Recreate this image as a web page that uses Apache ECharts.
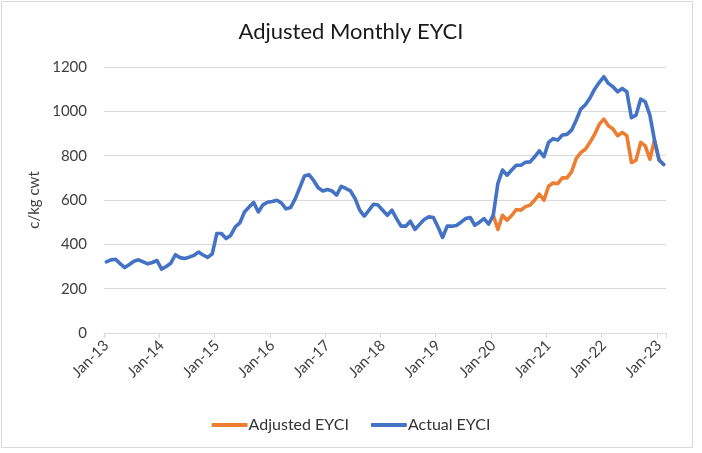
<!DOCTYPE html>
<html>
<head>
<meta charset="utf-8">
<script src="https://cdn.jsdelivr.net/npm/echarts@6/dist/echarts.min.js"></script>
<style>
  html, body { margin: 0; padding: 0; background: #fff; }
  #chart { width: 702px; height: 453px; }
</style>
</head>
<body>
<div id="chart"></div>
<script>
// Month labels, Jan-13 .. Feb-23
const monthNames = ["Jan","Feb","Mar","Apr","May","Jun","Jul","Aug","Sep","Oct","Nov","Dec"];
const years = ["13","14","15","16","17","18","19","20","21","22","23"];
const categories = [];
years.forEach(function (y) {
  monthNames.forEach(function (m) { categories.push(m + "-" + y); });
});
categories.length = 122; // data runs to Feb-23

// Actual EYCI (c/kg cwt)
const actualEYCI = [
  321, 330, 333, 313, 295, 309, 324, 330, 321, 312, 318, 327,
  288, 300, 315, 353, 340, 336, 342, 350, 365, 352, 341, 357,
  449, 449, 426, 440, 479, 497, 546, 568, 589, 546, 578, 590,
  593, 599, 587, 560, 566, 605, 655, 708, 714, 688, 655, 641,
  647, 641, 622, 662, 652, 641, 607, 554, 527, 553, 581, 577,
  554, 531, 554, 516, 482, 482, 504, 467, 490, 512, 524, 521,
  478, 431, 482, 482, 485, 500, 516, 521, 486, 500, 516, 491,
  531, 674, 735, 712, 735, 757, 757, 770, 772, 795, 822, 795,
  860, 877, 870, 893, 896, 915, 960, 1010, 1030, 1060, 1100, 1130,
  1156, 1126, 1111, 1088, 1103, 1088, 971, 983, 1055, 1043, 983, 870, 780, 760
];

// Adjusted EYCI (starts Jan-20)
const adjustedStart = 84;
const adjustedValues = [
  531, 467, 531, 509, 530, 557, 554, 570, 577, 600, 626, 599,
  662, 677, 674, 700, 700, 727, 787, 814, 829, 860, 896, 941,
  965, 935, 920, 890, 905, 890, 769, 780, 860, 844, 784, 870, 780, 760
];
const adjustedEYCI = categories.map(function (c, i) {
  return i < adjustedStart ? null : adjustedValues[i - adjustedStart];
});

const yTicks = { min: 0, max: 1200, interval: 200 };

const font = "Lato, 'Open Sans', sans-serif";
const chart = echarts.init(document.getElementById('chart'), null, { renderer: 'canvas' });
chart.setOption({
  animation: false,
  backgroundColor: '#ffffff',
  title: {
    text: 'Adjusted Monthly EYCI',
    left: 'center',
    top: 16,
    textStyle: { fontFamily: font, fontSize: 22, fontWeight: 'normal', color: '#1a1a1a' }
  },
  graphic: [{
    type: 'rect',
    shape: { x: 1.5, y: 1.5, width: 691, height: 446 },
    style: { fill: 'none', stroke: '#d9d9d9', lineWidth: 1 },
    silent: true
  }],
  legend: {
    data: ['Adjusted EYCI', 'Actual EYCI'],
    left: 'center',
    top: 412,
    icon: 'roundRect',
    itemWidth: 36,
    itemHeight: 4,
    itemGap: 22,
    textStyle: { fontFamily: font, fontSize: 16, color: '#333333', padding: [0, 0, 0, -4] }
  },
  grid: { left: 104, right: 36, top: 67, bottom: 120, containLabel: false },
  xAxis: {
    type: 'category',
    data: categories,
    boundaryGap: true,
    axisLine: { show: true, lineStyle: { color: '#d9d9d9', width: 1 } },
    axisTick: { show: true, interval: 11, length: 5, lineStyle: { color: '#d9d9d9' } },
    axisLabel: {
      interval: 11,
      rotate: 45,
      margin: 10,
      fontFamily: font,
      fontSize: 15,
      color: '#404040'
    },
    splitLine: { show: false }
  },
  yAxis: {
    type: 'value',
    min: yTicks.min,
    max: yTicks.max,
    interval: yTicks.interval,
    name: 'c/kg cwt',
    nameLocation: 'middle',
    nameRotate: 90,
    nameGap: 60,
    nameTextStyle: { fontFamily: font, fontSize: 15, color: '#404040' },
    axisLine: { show: false },
    axisTick: { show: false },
    axisLabel: {
      margin: 17, fontFamily: font, fontSize: 15, color: '#404040',
      formatter: function (v) { return String(v); }
    },
    splitLine: { lineStyle: { color: '#d9d9d9', width: 1 } }
  },
  series: [
    {
      name: 'Adjusted EYCI',
      type: 'line',
      data: adjustedEYCI,
      showSymbol: false,
      symbol: 'none',
      connectNulls: false,
      color: '#ED7D31',
      lineStyle: { width: 3.6, color: '#ED7D31', cap: 'round', join: 'round' },
      z: 2
    },
    {
      name: 'Actual EYCI',
      type: 'line',
      data: actualEYCI,
      showSymbol: false,
      symbol: 'none',
      color: '#4472C4',
      lineStyle: { width: 3.6, color: '#4472C4', cap: 'round', join: 'round' },
      z: 3
    }
  ]
});
</script>
</body>
</html>
